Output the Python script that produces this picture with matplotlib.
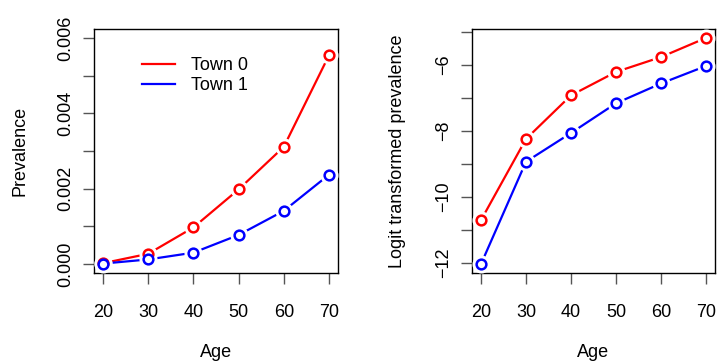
import matplotlib
matplotlib.use("Agg")
import matplotlib.pyplot as plt
from matplotlib.lines import Line2D

plt.rcParams['font.family'] = ['Liberation Sans', 'DejaVu Sans']

ages = [20, 30, 40, 50, 60, 70]
prev_town0 = [0.00002, 0.00027, 0.00097, 0.00198, 0.00311, 0.00554]
prev_town1 = [0.00001, 0.00012, 0.00030, 0.00077, 0.00141, 0.00237]
logit_town0 = [-10.70, -8.24, -6.92, -6.21, -5.76, -5.18]
logit_town1 = [-12.03, -8.93, -8.06, -7.16, -6.56, -6.03]
series_names = ["Town 0", "Town 1"]
series_colors = ["#ff0000", "#0000ff"]

left_ticks = [0.0, 0.001, 0.002, 0.003, 0.004, 0.005, 0.006]
left_labels = ["0.000", "", "0.002", "", "0.004", "", "0.006"]
right_ticks = [-12, -11, -10, -9, -8, -7, -6, -5]
right_labels = ["\u221212", "", "\u221210", "", "\u22128", "", "\u22126", ""]

FS = 13
W, H = 719, 362
fig = plt.figure(figsize=(W / 100, H / 100), dpi=100)
ax1 = fig.add_axes([94 / W, (H - 273) / H, 244 / W, 244 / H])
ax2 = fig.add_axes([472 / W, (H - 273) / H, 243 / W, 244 / H])


def draw_series(ax, x, y, color):
    # R type="b": line with gaps around the points
    ax.plot(x, y, color=color, lw=1.6, zorder=2, solid_capstyle='butt')
    ax.plot(x, y, ls='none', marker='o', ms=12, mfc='white', mec='white', zorder=3)
    ax.plot(x, y, ls='none', marker='o', ms=7, mfc='white', mec=color, mew=1.8, zorder=4)


for y, c in zip([prev_town0, prev_town1], series_colors):
    draw_series(ax1, ages, y, c)
for y, c in zip([logit_town0, logit_town1], series_colors):
    draw_series(ax2, ages, y, c)

ax1.set_xlim(18, 72)
ax1.set_ylim(-0.00024, 0.00624)
ax1.set_yticks(left_ticks)
ax1.set_yticklabels(left_labels, rotation=90, va='center')
ax1.set_ylabel("Prevalence", fontsize=FS, labelpad=21)

ax2.set_xlim(18, 72)
ax2.set_ylim(-12.3, -4.91)
ax2.set_yticks(right_ticks)
ax2.set_yticklabels(right_labels, rotation=90, va='center')
ax2.set_ylabel("Logit transformed prevalence", fontsize=FS, labelpad=21)

for ax in (ax1, ax2):
    ax.set_xticks(ages)
    ax.set_xlabel("Age", fontsize=FS, labelpad=17)
    ax.tick_params(axis='both', labelsize=FS, length=8, width=1, color='#555555')
    ax.tick_params(axis='x', pad=14)
    ax.tick_params(axis='y', pad=6)
    for s in ax.spines.values():
        s.set_linewidth(1)

handles = [Line2D([], [], color=c, lw=1.6) for c in series_colors]
ax1.legend(handles, series_names, loc='upper left', bbox_to_anchor=(0.13, 0.95),
           frameon=False, fontsize=FS, handlelength=1.85, handletextpad=0.85,
           labelspacing=0.15)

fig.savefig("out.png", dpi=100)
